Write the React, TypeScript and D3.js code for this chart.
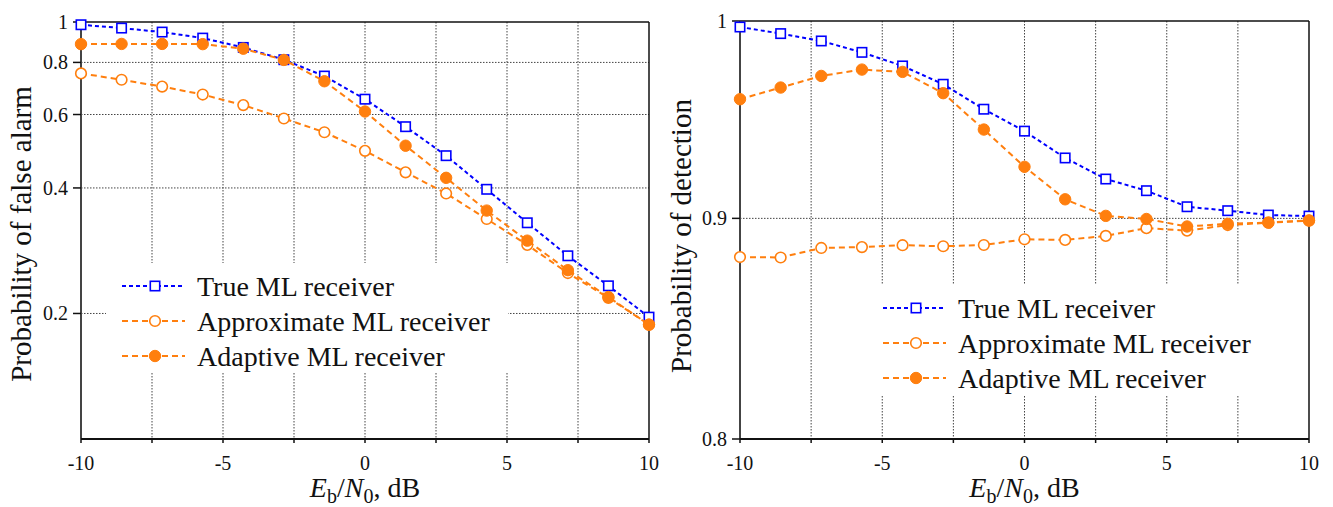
import React from "react";
import * as d3 from "d3";

const snrDb = [-10, -8.571, -7.143, -5.714, -4.286, -2.857, -1.429, 0, 1.429, 2.857, 4.286, 5.714, 7.143, 8.571, 10];

const pfaTrue = [0.985, 0.967, 0.946, 0.915, 0.869, 0.812, 0.742, 0.653, 0.561, 0.478, 0.397, 0.33, 0.275, 0.233, 0.196];
const pfaApprox = [0.753, 0.727, 0.7, 0.67, 0.632, 0.587, 0.544, 0.491, 0.436, 0.388, 0.337, 0.292, 0.25, 0.218, 0.188];
const pfaAdaptive = [0.885, 0.886, 0.886, 0.885, 0.863, 0.811, 0.721, 0.61, 0.505, 0.423, 0.353, 0.299, 0.254, 0.219, 0.188];

const pdTrue = [0.9968, 0.9933, 0.9894, 0.9834, 0.9763, 0.9668, 0.954, 0.9429, 0.9295, 0.9191, 0.9134, 0.9056, 0.9037, 0.9016, 0.9011];
const pdApprox = [0.8816, 0.8814, 0.8859, 0.8863, 0.8872, 0.8867, 0.8873, 0.89, 0.8897, 0.8916, 0.8953, 0.8941, 0.8968, 0.8979, 0.8989];
const pdAdaptive = [0.9591, 0.9651, 0.9711, 0.9744, 0.9732, 0.9622, 0.9437, 0.9251, 0.9092, 0.9012, 0.8997, 0.8961, 0.8974, 0.898, 0.899];

const xTicks = [-10, -5, 0, 5, 10];
const xGrid = [-7.5, -5, -2.5, 0, 2.5, 5, 7.5];
const xMinor = [-7.5, -2.5, 2.5, 7.5];
const pfaTicks = [0.2, 0.4, 0.6, 0.8, 1];
const pfaGrid = [0.2, 0.4, 0.6, 0.8];
const pdTicks = [0.8, 0.9, 1];
const pdGrid = [0.9];

const seriesNames = ["True ML receiver", "Approximate ML receiver", "Adaptive ML receiver"];

const BLUE = "#0000ff";
const ORANGE = "#ff7f0e";
const FONT = "Liberation Serif, Times New Roman, DejaVu Serif, serif";

type Kind = "square" | "open" | "filled";

function Marker({ kind, x, y }: { kind: Kind; x: number; y: number }) {
  if (kind === "square")
    return <rect x={x - 4.7} y={y - 4.7} width={9.4} height={9.4} fill="#fff" stroke={BLUE} strokeWidth={1.6} />;
  if (kind === "open") return <circle cx={x} cy={y} r={5.3} fill="#fff" stroke={ORANGE} strokeWidth={1.6} />;
  return <circle cx={x} cy={y} r={5.7} fill={ORANGE} stroke={ORANGE} strokeWidth={1} />;
}

interface PanelProps {
  x0: number;
  x1: number;
  yTop: number;
  yBot: number;
  yDomain: [number, number];
  yTicks: number[];
  yGrid: number[];
  series: number[][];
  yLabel: string;
  legendX: number;
  legendY: number;
  labelY: number;
  labelX: number;
}

function Panel(p: PanelProps) {
  const x = d3.scaleLinear().domain([-10, 10]).range([p.x0, p.x1]);
  const y = d3.scaleLog().domain(p.yDomain).range([p.yBot, p.yTop]);
  const kinds: Kind[] = ["square", "open", "filled"];
  const colors = [BLUE, ORANGE, ORANGE];
  const dashes = ["4,3", "6,4", "6,4"];
  const line = d3
    .line<number>()
    .x((_, i) => x(snrDb[i]))
    .y((d) => y(d));
  const gridStyle = { stroke: "#444", strokeWidth: 1, strokeDasharray: "1.5,1.5" };
  const lx = p.legendX;
  const rows = [0, 35, 70];
  return (
    <g>
      {xGrid.map((v) => (
        <line key={"gx" + v} x1={x(v)} x2={x(v)} y1={p.yTop} y2={p.yBot} {...gridStyle} />
      ))}
      {p.yGrid.map((v) => (
        <line key={"gy" + v} x1={p.x0} x2={p.x1} y1={y(v)} y2={y(v)} {...gridStyle} />
      ))}
      <rect x={lx - 16} y={p.legendY - 23} width={402} height={110} fill="#fff" />
      <line x1={p.x0} x2={p.x1} y1={p.yTop} y2={p.yTop} stroke="#111" strokeWidth={1.5} />
      <line x1={p.x1} x2={p.x1} y1={p.yTop} y2={p.yBot} stroke="#111" strokeWidth={1.5} />
      <line x1={p.x0} x2={p.x0} y1={p.yTop} y2={p.yBot} stroke="#444" strokeWidth={2} />
      <line x1={p.x0} x2={p.x1} y1={p.yBot} y2={p.yBot} stroke="#111" strokeWidth={2} />
      {xTicks.concat(xMinor).map((v) => (
        <line key={"xt" + v} x1={x(v)} x2={x(v)} y1={p.yBot} y2={p.yBot + 4} stroke="#111" strokeWidth={1.5} />
      ))}
      {xTicks.map((v) => (
        <text key={"xl" + v} x={x(v)} y={p.yBot + 31} textAnchor="middle" fontSize={20} style={{ fontFamily: FONT }} fill="#111">
          {String(v)}
        </text>
      ))}
      {p.yTicks.map((v) => (
        <g key={"yt" + v}>
          <line x1={p.x0 - 8} x2={p.x0} y1={y(v)} y2={y(v)} stroke="#111" strokeWidth={1.5} />
          <text x={p.x0 - 13} y={y(v) + 7} textAnchor="end" fontSize={20} style={{ fontFamily: FONT }} fill="#111">
            {String(v)}
          </text>
        </g>
      ))}
      <text
        transform={`translate(${p.labelX},${p.labelY}) rotate(-90)`}
        textAnchor="middle"
        fontSize={29}
        style={{ fontFamily: FONT }}
        fill="#111"
      >
        {p.yLabel}
      </text>
      <text x={(p.x0 + p.x1) / 2} y={497} textAnchor="middle" fontSize={28} style={{ fontFamily: FONT }} fill="#111">
        <tspan fontStyle="italic">E</tspan>
        <tspan fontSize={20} dy={6}>b</tspan>
        <tspan dy={-6}>/</tspan>
        <tspan fontStyle="italic">N</tspan>
        <tspan fontSize={20} dy={6}>0</tspan>
        <tspan dy={-6}>, dB</tspan>
      </text>
      {p.series.map((s, si) => (
        <g key={"s" + si}>
          <path d={line(s) || ""} fill="none" stroke={colors[si]} strokeWidth={2} strokeDasharray={dashes[si]} />
          {s.map((v, i) => (
            <Marker key={i} kind={kinds[si]} x={x(snrDb[i])} y={y(v)} />
          ))}
        </g>
      ))}
      {seriesNames.map((name, i) => (
        <g key={"lg" + i}>
          <line
            x1={lx}
            x2={lx + 63}
            y1={p.legendY + rows[i]}
            y2={p.legendY + rows[i]}
            stroke={colors[i]}
            strokeWidth={2}
            strokeDasharray={dashes[i]}
          />
          <Marker kind={kinds[i]} x={lx + 33} y={p.legendY + rows[i]} />
          <text x={lx + 75} y={p.legendY + rows[i] + 9.5} fontSize={28} style={{ fontFamily: FONT }} fill="#111">
            {name}
          </text>
        </g>
      ))}
    </g>
  );
}

export default function App() {
  return (
    <svg
      width={1333}
      height={507}
      style={{ position: "absolute", left: 0, top: 0, background: "#fff" }}
    >
      <rect width={1333} height={507} fill="#fff" />
      <Panel
        x0={81}
        x1={649}
        yTop={22}
        yBot={439}
        yDomain={[0.1, 1]}
        yTicks={pfaTicks}
        yGrid={pfaGrid}
        series={[pfaTrue, pfaApprox, pfaAdaptive]}
        yLabel="Probability of false alarm"
        legendX={122}
        legendY={286}
        labelX={31}
        labelY={234}
      />
      <Panel
        x0={740}
        x1={1309}
        yTop={21}
        yBot={439}
        yDomain={[0.8, 1]}
        yTicks={pdTicks}
        yGrid={pdGrid}
        series={[pdTrue, pdApprox, pdAdaptive]}
        yLabel="Probability of detection"
        legendX={883}
        legendY={308}
        labelX={691}
        labelY={236}
      />
    </svg>
  );
}
